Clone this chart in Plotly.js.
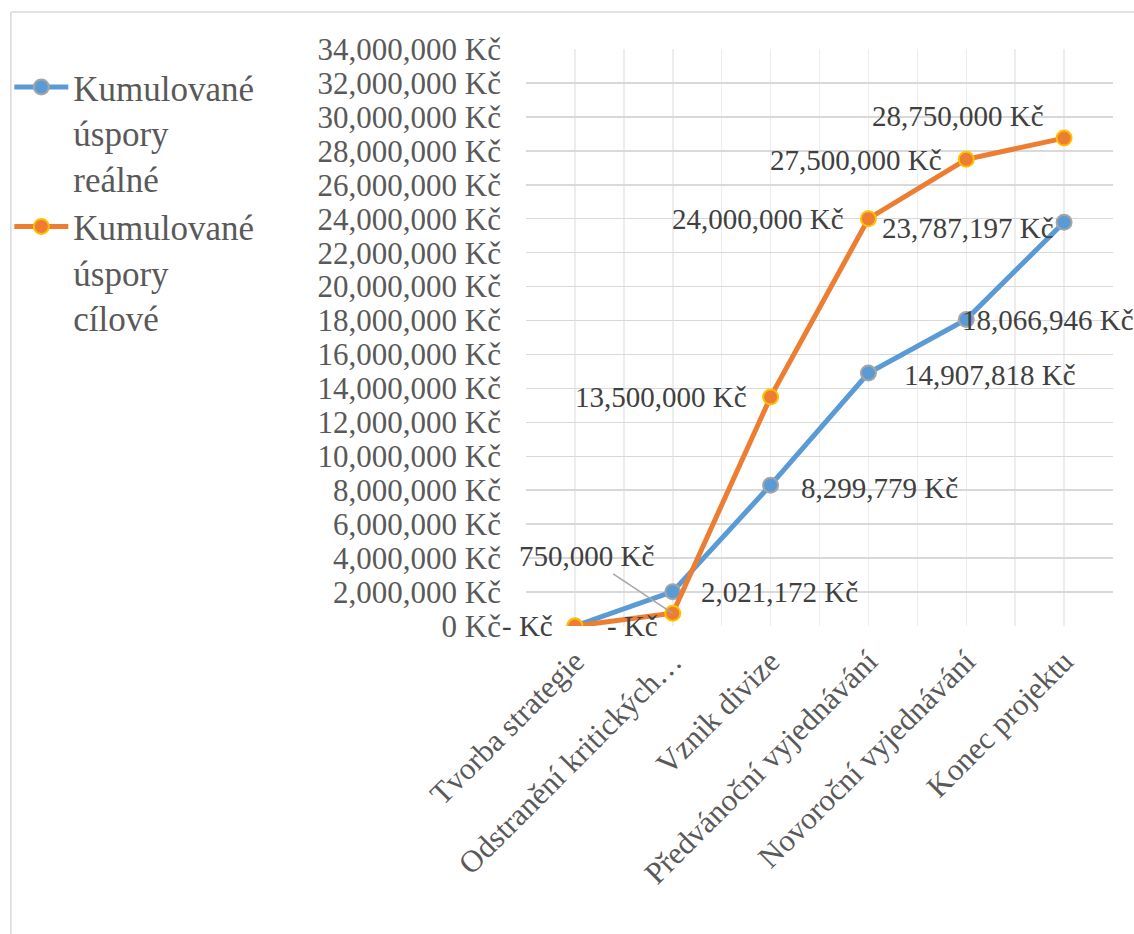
<!DOCTYPE html>
<html>
<head>
<meta charset="utf-8">
<script src="https://cdn.plot.ly/plotly-3.0.1.min.js"></script>
<style>html,body{margin:0;padding:0;background:#fff;}#chart{width:1134px;height:934px;}</style>
</head>
<body>
<div id="chart"></div>
<script>
// ---- data ----
const categories = ["Tvorba strategie", "Odstranění kritických…", "Vznik divize", "Předvánoční vyjednávání", "Novoroční vyjednávání", "Konec projektu"];
const seriesNames = ["Kumulované<br>úspory<br>reálné", "Kumulované<br>úspory<br>cílové"];
const realValues = [0, 2021172, 8299779, 14907818, 18066946, 23787197];
const targetValues = [0, 750000, 13500000, 24000000, 27500000, 28750000];
const yTickStep = 2000000;
const yMax = 34000000;

// ---- label placement (layout only) ----
const realLabelPos = [
  {xa: "left", dx: 30, dy: 0},
  {xa: "left", dx: 26, dy: 0},
  {xa: "left", dx: 28, dy: -3},
  {xa: "left", dx: 34, dy: -2},
  {xa: "left", dx: -6, dy: -1},
  {xa: "right", dx: -8, dy: -6}
];
const targetLabelPos = [
  {xa: "right", dx: -20, dy: 0},
  null,
  {xa: "right", dx: -22, dy: 0},
  {xa: "right", dx: -22, dy: 0},
  {xa: "right", dx: -22, dy: -1},
  {xa: "right", dx: -18, dy: 22}
];

const xIdx = categories.map((c, i) => i);
function fmt(v) { return v === 0 ? "- Kč" : v.toLocaleString("en-US") + " Kč"; }

const FONT = "Liberation Serif";
const blue = "#5B9BD5", orange = "#ED7D31";

const traces = [
  {x: xIdx, y: realValues, name: seriesNames[0], type: "scatter", mode: "lines+markers",
   line: {color: blue, width: 5}, marker: {size: 15, color: blue, line: {color: "#A5A5A5", width: 2}}},
  {x: xIdx, y: targetValues, name: seriesNames[1], type: "scatter", mode: "lines+markers",
   line: {color: orange, width: 5}, marker: {size: 15, color: orange, line: {color: "#FFC000", width: 2}}}
];

const annotations = [];
const labFont = {family: FONT, size: 29, color: "#404040"};
realValues.forEach((v, i) => {
  const p = realLabelPos[i];
  annotations.push({x: xIdx[i], y: v, text: fmt(v), showarrow: false, xanchor: p.xa, yanchor: "middle",
    xshift: p.dx, yshift: p.dy, font: labFont});
});
targetValues.forEach((v, i) => {
  const p = targetLabelPos[i];
  if (p) {
    annotations.push({x: xIdx[i], y: v, text: fmt(v), showarrow: false, xanchor: p.xa, yanchor: "middle",
      xshift: p.dx, yshift: p.dy, font: labFont});
  } else {
    annotations.push({x: xIdx[i], y: v, text: fmt(v), showarrow: true, arrowhead: 0, arrowwidth: 1.5,
      arrowcolor: "#A6A6A6", standoff: 0, ax: -86, ay: -57, font: labFont});
  }
});

const minorVals = categories.map((c, i) => i - 0.5).concat([categories.length - 0.5]);

const layout = {
  width: 1134, height: 934,
  margin: {l: 525, r: 21, t: 49, b: 308},
  paper_bgcolor: "#fff", plot_bgcolor: "#fff",
  font: {family: FONT, color: "#595959"},
  showlegend: true,
  legend: {x: -0.877, xanchor: "left", y: 0.985, yanchor: "top", valign: "top", itemwidth: 54,
    font: {family: FONT, size: 35, color: "#595959"}, bgcolor: "rgba(0,0,0,0)", tracegroupgap: 0},
  xaxis: {range: [-0.5, categories.length - 0.5], tickmode: "array", tickvals: xIdx, ticktext: categories,
    tickangle: -45, tickfont: {family: FONT, size: 31, color: "#595959"}, ticks: "", showgrid: true,
    gridcolor: "#EDEDED", gridwidth: 1.5, zeroline: false, showline: false, ticklabelstandoff: 10,
    minor: {tickmode: "array", tickvals: minorVals, showgrid: true, gridcolor: "#EDEDED", gridwidth: 1.5, ticks: ""}},
  yaxis: {range: [0, yMax], dtick: yTickStep, tick0: 0, tickformat: ",d", ticksuffix: " Kč",
    tickfont: {family: FONT, size: 31, color: "#595959"}, showgrid: true, gridcolor: "#D9D9D9", gridwidth: 1.5,
    zeroline: false, showline: false, ticks: "", ticklabelstandoff: 24},
  annotations: annotations,
  shapes: [
    {type: "line", xref: "paper", yref: "paper", x0: -0.8776, x1: 1.2, y0: 1.0641, y1: 1.0641, line: {color: "#D9D9D9", width: 1.5}},
    {type: "line", xref: "paper", yref: "paper", x0: -0.8776, x1: -0.8776, y0: 1.0641, y1: -1, line: {color: "#D9D9D9", width: 1.5}}
  ]
};

Plotly.newPlot("chart", traces, layout, {displayModeBar: false, staticPlot: true});
</script>
</body>
</html>
